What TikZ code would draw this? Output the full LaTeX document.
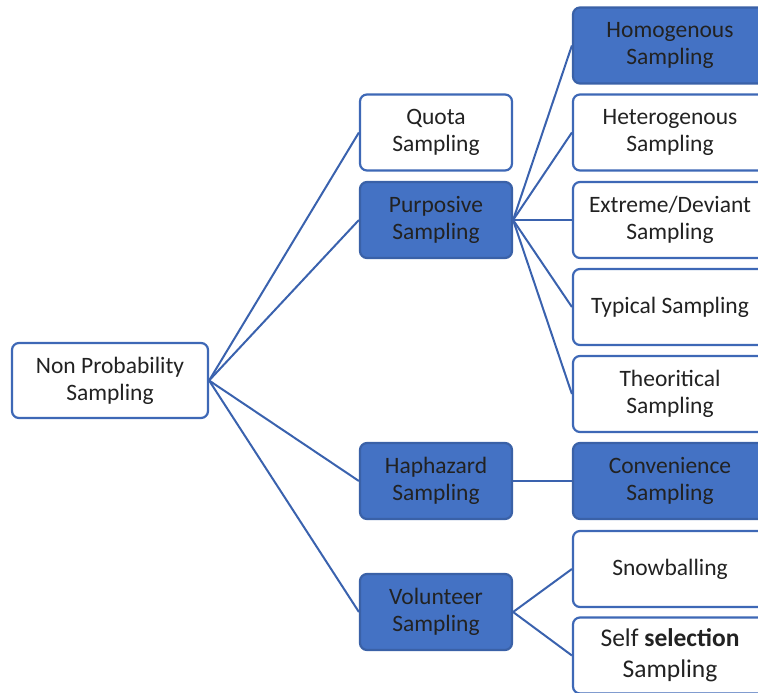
\documentclass[tikz,border=0pt]{standalone}
\usepackage{fontspec}
\setmainfont{Carlito}
\definecolor{boxblue}{HTML}{4472C4}
\definecolor{edgeblue}{HTML}{3E68B6}
\definecolor{linkblue}{HTML}{3A62AE}
\definecolor{inktext}{HTML}{222222}
\begin{document}
\begin{tikzpicture}[x=1pt,y=-1pt,
  box/.style={draw=edgeblue,line width=2.2pt,rounded corners=7pt,align=center,
    text=inktext,font=\fontsize{23.5}{27}\selectfont,inner sep=0pt},
  plain/.style={box,fill=white},
  filled/.style={box,fill=boxblue,draw=boxblue!85!black},
  midbox/.style={minimum width=152pt,minimum height=76pt},
  sidebox/.style={minimum width=194pt,minimum height=76pt},
  link/.style={draw=linkblue,line width=2pt}]
\useasboundingbox (0,0) rectangle (758,693);
\clip (0,0) rectangle (758,693);

% root
\node[plain,minimum width=196pt,minimum height=75pt] (root) at (110,380.5) {Non Probability\\Sampling};

% middle column
\node[plain,midbox]  (quota) at (436,132.5) {Quota\\Sampling};
\node[filled,midbox] (purp)  at (436,220)   {Purposive\\Sampling};
\node[filled,midbox] (hap)   at (436,481)   {Haphazard\\Sampling};
\node[filled,midbox] (vol)   at (436,612)   {Volunteer\\Sampling};

% right column
\node[filled,sidebox] (homo)  at (670,45.5)  {Homogenous\\Sampling};
\node[plain,sidebox]  (hetero) at (670,132.5) {Heterogenous\\Sampling};
\node[plain,sidebox]  (ext)   at (670,220)   {Extreme/Deviant\\Sampling};
\node[plain,sidebox]  (typ)   at (670,307)   {Typical Sampling};
\node[plain,sidebox]  (theo)  at (670,394)   {Theoritical\\Sampling};
\node[filled,sidebox] (conv)  at (670,481)   {Convenience\\Sampling};
\node[plain,sidebox]  (snow)  at (670,569)   {Snowballing};
\node[plain,sidebox,font=\fontsize{25.5}{31}\selectfont] (self) at (670,655.5) {Self \textbf{selection}\\Sampling};

% connectors
\foreach \t in {quota,purp,hap,vol}
  \draw[link] (root.east) -- (\t.west);
\foreach \t in {homo,hetero,ext,typ,theo}
  \draw[link] (purp.east) -- (\t.west);
\draw[link] (hap.east) -- (conv.west);
\draw[link] (vol.east) -- (snow.west);
\draw[link] (vol.east) -- (self.west);
\end{tikzpicture}
\end{document}
